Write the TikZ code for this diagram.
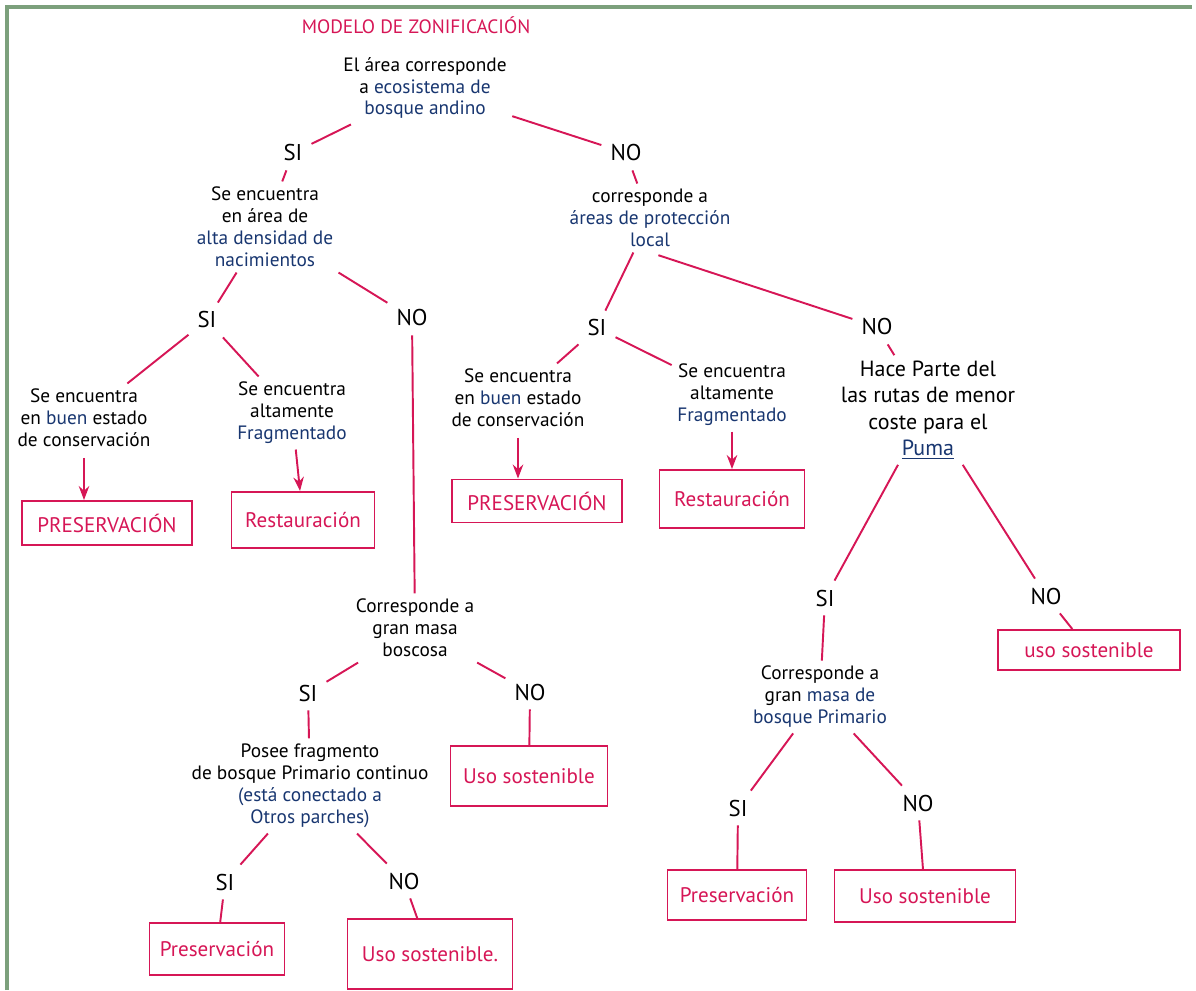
\documentclass[tikz,border=0pt]{standalone}
\usepackage{fontspec}
\setmainfont{PT Sans}
\usetikzlibrary{arrows.meta}
\definecolor{crimson}{RGB}{214,22,86}
\definecolor{navy}{RGB}{24,54,112}
\definecolor{sage}{RGB}{124,160,124}
\newcommand{\blu}[1]{\textcolor{navy}{#1}}
\tikzset{>=Stealth}

\begin{document}
\begin{tikzpicture}[x=0.02cm,y=-0.02cm,
  link/.style={crimson,line width=1.1pt},
  arr/.style={->,crimson,line width=1.1pt},
  ask/.style={align=center,font=\fontsize{11}{12.5}\selectfont,inner sep=3pt},
  ans/.style={font=\fontsize{13}{13}\selectfont,inner sep=5pt},
  leaf/.style={draw=crimson,line width=1.1pt,text=crimson,inner sep=0pt,
    font=\fontsize{12}{12}\selectfont}]
  \useasboundingbox (0,0) rectangle (1196,990);

  % frame
  \draw[sage,line width=2.5pt] (7,990) -- (7,7) -- (1192,7);
  \node[text=crimson,font=\fontsize{11}{11}\selectfont] (title) at (416,25)
    {MODELO DE ZONIFICACIÓN};

  % root question
  \node[ask] (root) at (425,88)
    {El área corresponde\\a \blu{ecosistema de}\\\blu{bosque andino}};
  \node[ans] (si1) at (293,153) {SI};
  \node[ans] (no1) at (626,153) {NO};

  % left branch
  \node[ask] (q2) at (265,227)
    {Se encuentra\\en área de\\\blu{alta densidad de}\\\blu{nacimientos}};
  \node[ans] (si2) at (207,320) {SI};
  \node[ans] (no2) at (412,318) {NO};

  \node[ask] (q4) at (84,418)
    {Se encuentra\\en \blu{buen} estado\\de conservación};
  \node[ask] (q5) at (292,413)
    {Se encuentra\\altamente\\\blu{Fragmentado}};
  \node[leaf,minimum width=3.4cm,minimum height=0.88cm] (pres1) at (107,523)
    {PRESERVACIÓN};
  \node[leaf,minimum width=2.86cm,minimum height=1.12cm] (rest1) at (303,520)
    {Restauración};

  \node[ask] (q6) at (415,628) {Corresponde a\\gran masa\\boscosa};
  \node[ans] (si3) at (308,693) {SI};
  \node[ans] (no3) at (530,692) {NO};
  \node[leaf,minimum width=3.14cm,minimum height=1.2cm] (uso2) at (529,776)
    {Uso sostenible};

  \node[ask] (q7) at (310,786)
    {Posee fragmento\\de bosque Primario continuo\\\blu{(está conectado a}\\\blu{Otros parches)}};
  \node[ans] (si4) at (225,882) {SI};
  \node[ans] (no4) at (404,881) {NO};
  \node[leaf,minimum width=2.7cm,minimum height=1.04cm] (pres4) at (217,949)
    {Preservación};
  \node[leaf,minimum width=3.3cm,minimum height=1.4cm] (uso4) at (430,954)
    {Uso sostenible.};

  % right branch
  \node[ask] (q3) at (650,218)
    {corresponde a\\\blu{áreas de protección}\\\blu{local}};
  \node[ans] (si5) at (597,328) {SI};
  \node[ans] (no5) at (877,327) {NO};

  \node[ask] (q8) at (518,398)
    {Se encuentra\\en \blu{buen} estado\\de conservación};
  \node[ask] (q9) at (732,395)
    {Se encuentra\\altamente\\\blu{Fragmentado}};
  \node[leaf,minimum width=3.4cm,minimum height=0.86cm] (pres2) at (537,501)
    {PRESERVACIÓN};
  \node[leaf,minimum width=2.9cm,minimum height=1.16cm] (rest2) at (732,499)
    {Restauración};

  \node[ask,font=\fontsize{12.5}{15}\selectfont] (q10) at (928,410)
    {Hace Parte del\\las rutas de menor\\coste para el\\\blu{\underline{Puma}}};
  \node[ans] (si6) at (825,598) {SI};
  \node[ans] (no6) at (1046,596) {NO};
  \node[leaf,minimum width=3.64cm,minimum height=0.8cm] (uso1) at (1089,650)
    {uso sostenible};

  \node[ask] (q11) at (820,697)
    {Corresponde a\\gran \blu{masa de}\\\blu{bosque Primario}};
  \node[ans] (si7) at (738,808) {SI};
  \node[ans] (no7) at (918,803) {NO};
  \node[leaf,minimum width=2.78cm,minimum height=1.0cm] (pres3) at (737,895)
    {Preservación};
  \node[leaf,minimum width=3.62cm,minimum height=1.04cm] (uso3) at (925,896)
    {Uso sostenible};

  % connectors
  \draw[link] (root) -- (si1);
  \draw[link] (root) -- (no1);
  \draw[link] (si1) -- (q2);
  \draw[link] (no1) -- (q3);
  \draw[link] (q2) -- (si2);
  \draw[link] (q2) -- (no2);
  \draw[link] (si2) -- (q4);
  \draw[link] (si2) -- (q5);
  \draw[arr,shorten <=3pt] (q4.south) -- (q4.south |- pres1.north);
  \draw[arr] (q5) -- (rest1);
  \draw[link] (no2) -- (q6);
  \draw[link] (q6) -- (si3);
  \draw[link] (q6) -- (no3);
  \draw[link] (no3) -- (uso2);
  \draw[link] (si3) -- (q7);
  \draw[link] (q7) -- (si4);
  \draw[link] (q7) -- (no4);
  \draw[link] (si4) -- (pres4);
  \draw[link] (no4) -- (uso4);

  \draw[link] (q3) -- (si5);
  \draw[link,shorten <=5pt] (q3.south) -- (no5);
  \draw[link] (si5) -- (q8);
  \draw[link] (si5) -- (q9);
  \draw[arr,shorten <=3pt] (q8.south) -- (q8.south |- pres2.north);
  \draw[arr] (q9) -- (rest2);
  \draw[link] (no5) -- (q10);
  \draw[link] (q10) -- (si6);
  \draw[link] (q10) -- (no6);
  \draw[link] (no6) -- (uso1);
  \draw[link] (si6) -- (q11);
  \draw[link] (q11) -- (si7);
  \draw[link] (q11) -- (no7);
  \draw[link] (si7) -- (pres3);
  \draw[link] (no7) -- (uso3);
\end{tikzpicture}
\end{document}
